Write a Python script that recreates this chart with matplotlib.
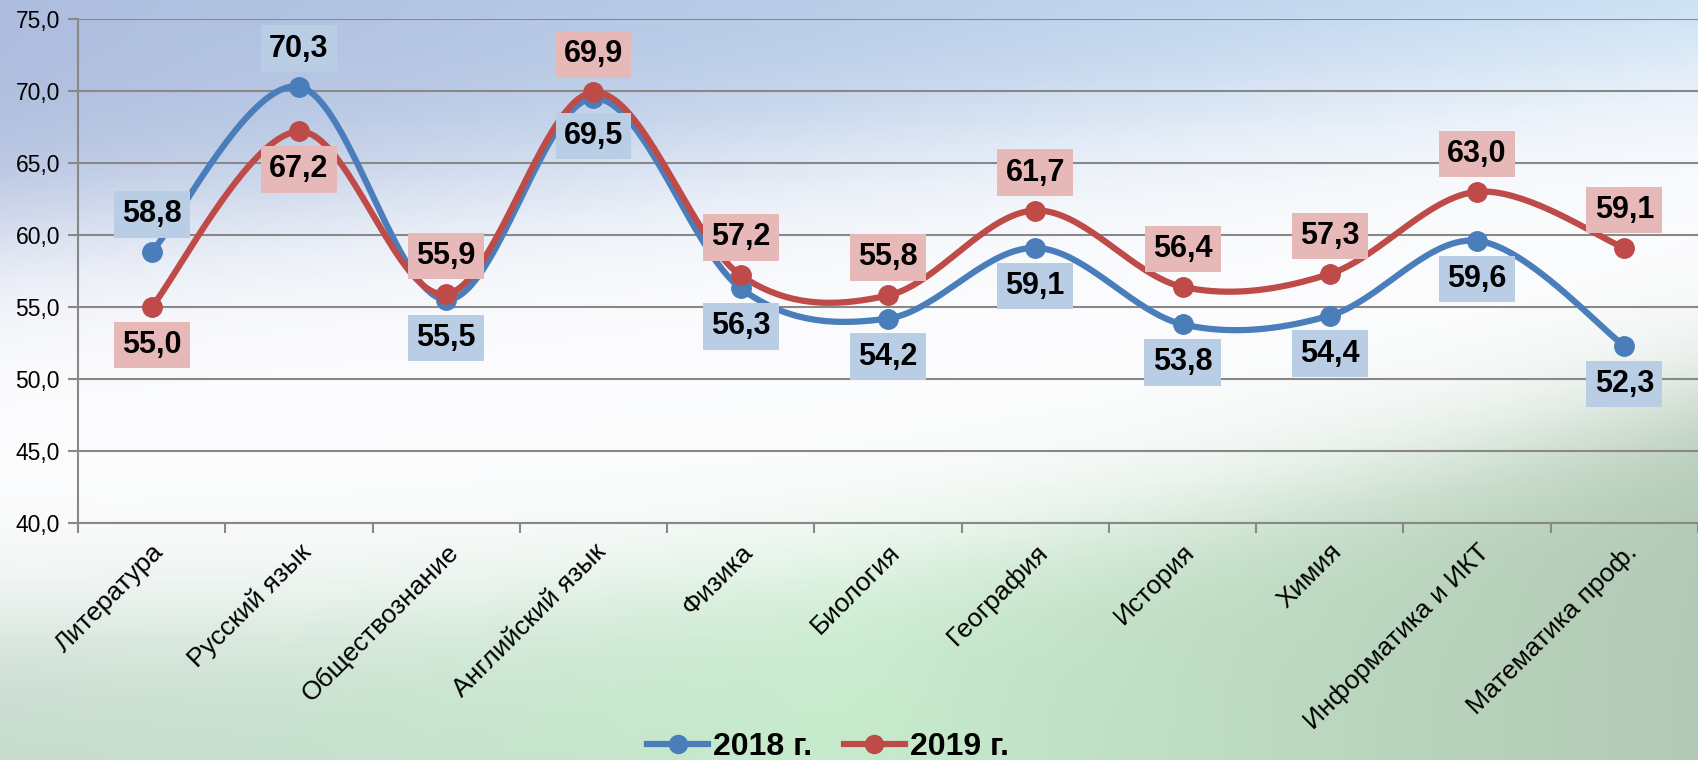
import numpy as np
import matplotlib
matplotlib.use('Agg')
import matplotlib.pyplot as plt

#==============================================================================
# Data
#==============================================================================
subjects = ['Литература', 'Русский язык', 'Обществознание', 'Английский язык',
            'Физика', 'Биология', 'География', 'История', 'Химия',
            'Информатика и ИКТ', 'Математика проф.']
y2018 = [58.8, 70.3, 55.5, 69.5, 56.3, 54.2, 59.1, 53.8, 54.4, 59.6, 52.3]
y2019 = [55.0, 67.2, 55.9, 69.9, 57.2, 55.8, 61.7, 56.4, 57.3, 63.0, 59.1]
# label above (+1) or below (-1) the point
pos2018 = [1, 1, -1, -1, -1, -1, -1, -1, -1, -1, -1]
pos2019 = [-1, -1, 1, 1, 1, 1, 1, 1, 1, 1, 1]

plt.rcParams['font.family'] = ['Liberation Sans', 'DejaVu Sans']

BLUE = '#4a7ebb'
RED = '#be4b48'


def smooth(x, y, n=40):
    # Catmull-Rom style curve like Excel's smoothed line
    x = np.asarray(x, float)
    y = np.asarray(y, float)
    px = np.concatenate([[x[0]], x, [x[-1]]])
    py = np.concatenate([[y[0]], y, [y[-1]]])
    xs, ys = [], []
    t = np.linspace(0, 1, n)
    for i in range(1, len(px) - 2):
        p0, p1, p2, p3 = [np.array([px[j], py[j]]) for j in range(i - 1, i + 3)]
        c1 = p1 + (p2 - p0) / 6.0
        c2 = p2 - (p3 - p1) / 6.0
        b = ((1 - t) ** 3)[:, None] * p1 + (3 * (1 - t) ** 2 * t)[:, None] * c1 \
            + (3 * (1 - t) * t ** 2)[:, None] * c2 + (t ** 3)[:, None] * p2
        xs.append(b[:, 0])
        ys.append(b[:, 1])
    return np.concatenate(xs), np.concatenate(ys)


W, H = 1698, 760
fig = plt.figure(figsize=(W / 100, H / 100), dpi=100)

#==============================================================================
# Background gradient
#==============================================================================
bg = fig.add_axes([0, 0, 1, 1])
u = np.linspace(0, 1, 400)[None, :]
v = np.linspace(0, 1, 200)[:, None]
white = np.array([0.99, 0.99, 0.995])
blue_l = np.array([0.68, 0.74, 0.87])
blue_r = np.array([0.76, 0.86, 0.95])
green_l = np.array([0.78, 0.86, 0.81])
green_m = np.array([0.78, 0.92, 0.80])
green_r = np.array([0.70, 0.79, 0.71])
top = blue_l[None, None, :] * (1 - u[..., None]) + blue_r[None, None, :] * u[..., None]
um = np.clip(u * 2, 0, 1)[..., None]
um2 = np.clip(u * 2 - 1, 0, 1)[..., None]
bot = np.where(u[..., None] < 0.5,
               green_l * (1 - um) + green_m * um,
               green_m * (1 - um2) + green_r * um2)
wt = 1 / (1 + np.exp(-(0.30 - 0.22 * u - v) / 0.06))
wb = 1 / (1 + np.exp(-(v - (0.82 - 0.30 * u ** 2)) / 0.05))
img = white[None, None, :] * np.ones((200, 400, 3))
img = img * (1 - wt[..., None]) + top * wt[..., None]
img = img * (1 - wb[..., None]) + bot * wb[..., None]
bg.imshow(np.clip(img, 0, 1), aspect='auto', extent=[0, 1, 0, 1])
bg.axis('off')

#==============================================================================
# Chart
#==============================================================================
ax = fig.add_axes([78 / W, (H - 523) / H, 1 - 78 / W, (523 - 19) / H])
ax.patch.set_alpha(0)
x = np.arange(len(subjects))

for ys, col, lab in [(y2018, BLUE, '2018 г.'), (y2019, RED, '2019 г.')]:
    sx, sy = smooth(x, ys)
    ax.plot(sx, sy, color=col, lw=4.5, solid_capstyle='round', zorder=3)
    ax.plot(x, ys, 'o', color=col, ms=14, zorder=4)
    ax.plot([], [], '-o', color=col, lw=4.5, ms=13, label=lab)

for ys, ps, fc in [(y2018, pos2018, '#b9cde5'), (y2019, pos2019, '#e6b9b8')]:
    for xi, yi, p in zip(x, ys, ps):
        ax.annotate(f'{yi:.1f}'.replace('.', ','), (xi, yi),
                    xytext=(0, 38 * p), textcoords='offset pixels',
                    ha='center', va='center', fontsize=22, fontweight='bold',
                    color='black', zorder=5,
                    bbox=dict(boxstyle='square,pad=0.27', fc=fc, ec='none'))

ax.set_xlim(-0.5, len(subjects) - 0.5)
ax.set_ylim(40, 75)
ax.set_yticks(np.arange(40, 76, 5))
ax.set_yticklabels([f'{t:.1f}'.replace('.', ',') for t in np.arange(40, 76, 5)],
                   fontsize=16.5)
ax.set_xticks(x)
ax.set_xticklabels(subjects, rotation=45, ha='right', rotation_mode='anchor',
                   fontsize=19)
ax.set_xticks(np.arange(-0.5, len(subjects), 1), minor=True)
ax.tick_params(axis='x', which='major', length=0, pad=12)
ax.tick_params(axis='x', which='minor', length=7, color='#888888', width=1.5)
ax.tick_params(axis='y', length=7, color='#888888', width=1.5, pad=6)
ax.grid(axis='y', color='#888888', lw=1.5)
ax.set_axisbelow(True)
for s in ['top', 'right']:
    ax.spines[s].set_visible(False)
for s in ['left', 'bottom']:
    ax.spines[s].set_color('#888888')
    ax.spines[s].set_linewidth(1.5)

fig.legend(loc='center', bbox_to_anchor=(828 / W, (H - 747) / H), ncol=2,
           frameon=False, prop={'weight': 'bold', 'size': 23},
           handlelength=1.9, columnspacing=1.0, handletextpad=0.15)

plt.savefig('out.png', dpi=100)
